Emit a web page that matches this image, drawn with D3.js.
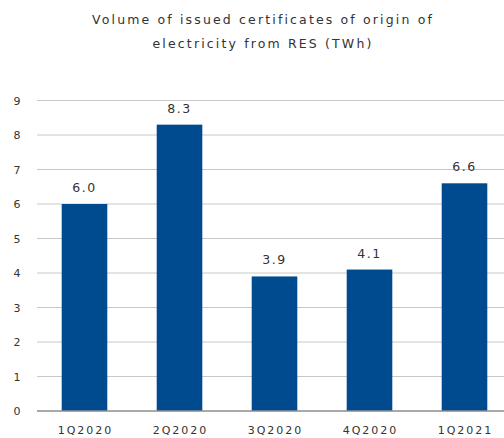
<!DOCTYPE html>
<meta charset="UTF-8">
<style>
  body { margin: 0; background: #fff; }
  text { font-family: "DejaVu Sans", Verdana, sans-serif; fill: #333; }
</style>
<svg width="504" height="438"></svg>
<script src="https://d3js.org/d3.v7.min.js"></script>
<script>

var quarters = ["1Q2020", "2Q2020", "3Q2020", "4Q2020", "1Q2021"];
var volumes = [6.0, 8.3, 3.9, 4.1, 6.6];
var yTicks = [0, 1, 2, 3, 4, 5, 6, 7, 8, 9];
var titleLines = ["Volume of issued certificates of origin of", "electricity from RES (TWh)"];

var svg = d3.select("svg");

var x = d3.scaleBand().domain(quarters).range([37, 512]).paddingInner(0.52).paddingOuter(0.26);
var y = d3.scaleLinear().domain([0, 9]).range([411, 100.5]);

// title
svg.append("g").selectAll("text")
    .data(titleLines)
    .enter().append("text")
    .attr("x", 263)
    .attr("y", function(d, i) { return 24 + i * 24; })
    .attr("text-anchor", "middle")
    .style("font-size", "12.5px")
    .style("letter-spacing", "2.15px")
    .text(function(d) { return d; });

// gridlines
svg.append("g").selectAll("line")
    .data(yTicks.slice(1))
    .enter().append("line")
    .attr("x1", 37).attr("x2", 504)
    .attr("y1", function(d) { return y(d); })
    .attr("y2", function(d) { return y(d); })
    .attr("stroke", "#c8c8c8")
    .attr("stroke-width", 1);

// y labels
svg.append("g").selectAll("text")
    .data(yTicks)
    .enter().append("text")
    .attr("x", 17)
    .attr("y", function(d) { return y(d) + 4; })
    .attr("text-anchor", "middle")
    .style("font-size", "11px")
    .text(function(d) { return d; });

// bars
svg.append("g").selectAll("rect")
    .data(volumes)
    .enter().append("rect")
    .attr("x", function(d, i) { return x(quarters[i]); })
    .attr("width", x.bandwidth())
    .attr("y", function(d) { return y(d); })
    .attr("height", function(d) { return y(0) - y(d); })
    .attr("fill", "#004a8f");

// baseline
svg.append("line")
    .attr("x1", 37).attr("x2", 504)
    .attr("y1", y(0)).attr("y2", y(0))
    .attr("stroke", "#8c8c8c")
    .attr("stroke-width", 1.5);

// value labels
svg.append("g").selectAll("text")
    .data(volumes)
    .enter().append("text")
    .attr("x", function(d, i) { return x(quarters[i]) + x.bandwidth() / 2; })
    .attr("y", function(d) { return y(d) - 12; })
    .attr("text-anchor", "middle")
    .style("font-size", "12.5px")
    .style("letter-spacing", "1.5px")
    .text(function(d) { return d.toFixed(1); });

// x labels
svg.append("g").selectAll("text")
    .data(quarters)
    .enter().append("text")
    .attr("x", function(d) { return x(d) + x.bandwidth() / 2 + 1; })
    .attr("y", 434)
    .attr("text-anchor", "middle")
    .style("font-size", "11px")
    .style("letter-spacing", "2px")
    .text(function(d) { return d; });

</script>
